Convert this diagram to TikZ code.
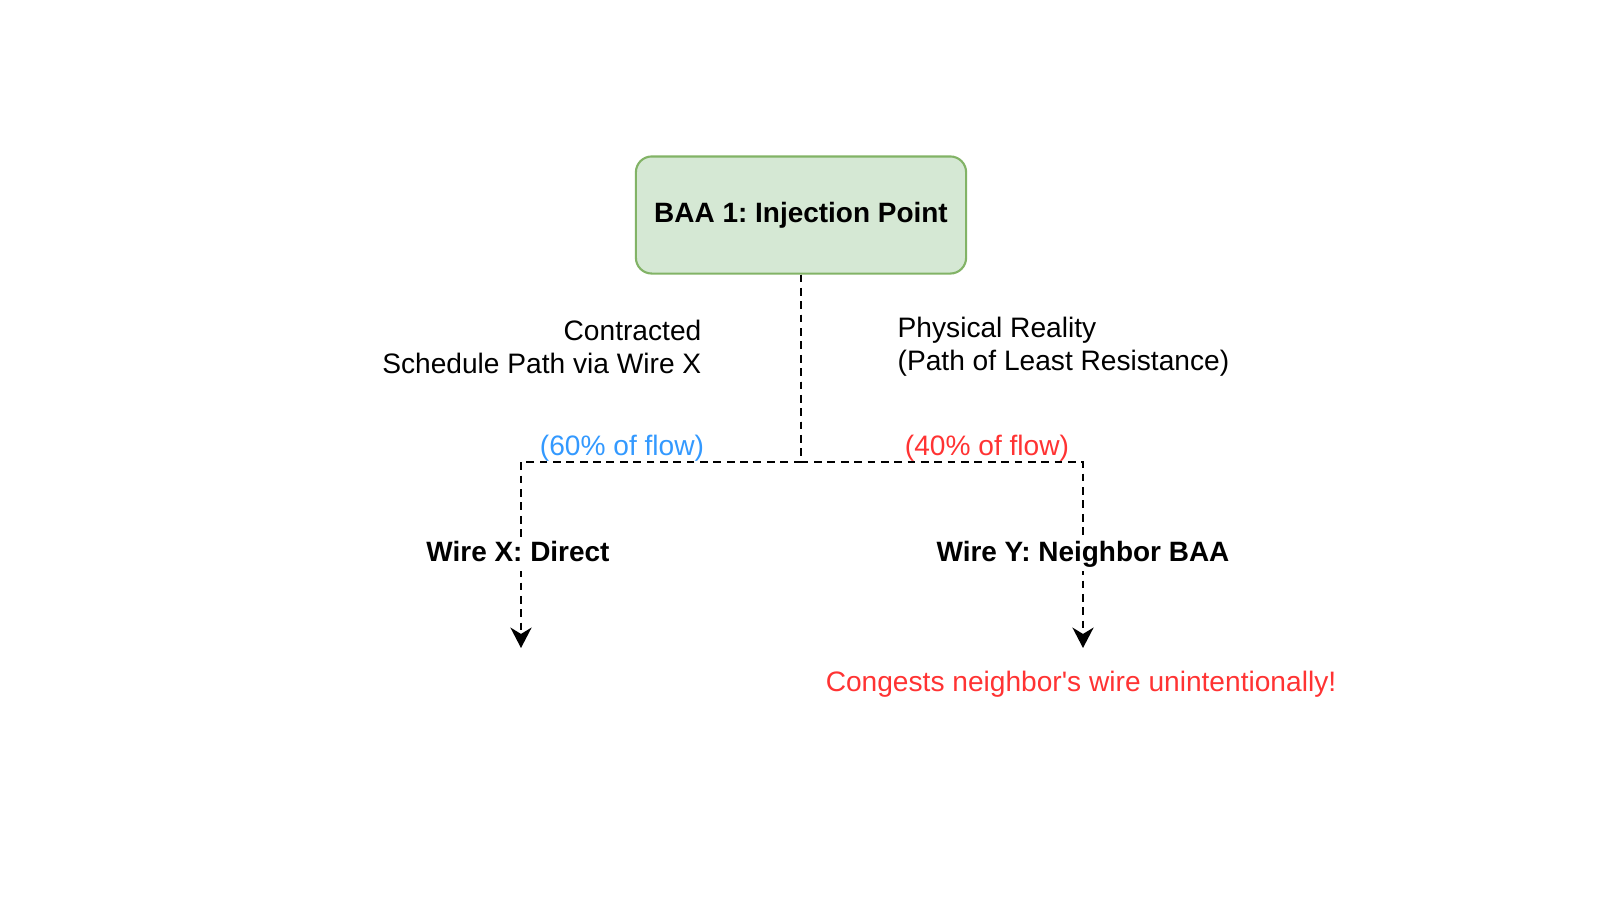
\documentclass[tikz,border=0pt]{standalone}
\usepackage{fontspec}
\setmainfont{Liberation Sans}
\usetikzlibrary{arrows.meta}
\definecolor{boxfill}{HTML}{D5E8D4}
\definecolor{boxline}{HTML}{82B366}
\definecolor{flowblue}{HTML}{3399FF}
\definecolor{flowred}{HTML}{FF3333}
\frenchspacing

\begin{document}
\begin{tikzpicture}[x=0.01cm,y=-0.01cm,
    txt/.style={font=\fontsize{8}{9.3}\selectfont,inner sep=0pt},
    bold/.style={font=\fontsize{7.95}{9.3}\selectfont\bfseries},
    flow/.style={line width=0.65pt,black,dash pattern=on 2.2pt off 1.6pt},
    tip/.style={-{Stealth[length=5.8pt,width=6pt,inset=1.8pt]}}]
    \useasboundingbox (0,0) rectangle (1600,900);
    % Injection point
    \node[draw=boxline,fill=boxfill,line width=0.6pt,rounded corners=4.5pt,
          minimum width=93.9pt,minimum height=33.3pt,txt,bold]
          (inj) at (801,215) {BAA 1: Injection Point};
    \coordinate (split) at (801,462);
    \coordinate (wirex) at (521,648);
    \coordinate (wirey) at (1083,648);
    % Flow lines
    \draw[flow,tip] (inj.south) -- (split) -| (wirex);
    \draw[flow,tip] (inj.south) -- (split) -| (wirey);
    % Path labels
    \node[txt,anchor=east,align=right] (sched) at (702,347) {Contracted\\Schedule Path via Wire X};
    \node[txt,anchor=west,align=left] (phys) at (897,347) {Physical Reality\\(Path of Least Resistance)};
    \node[txt,text=flowblue] (share60) at (622,448) {(60\% of flow)};
    \node[txt,text=flowred] (share40) at (987,448) {(40\% of flow)};
    % Wires
    \node[txt,bold,fill=white,inner sep=1pt,text height=6pt,text depth=1.7pt] (lblx) at (518,554) {Wire X: Direct};
    \node[txt,bold,fill=white,inner sep=1pt,text height=6pt,text depth=1.7pt] (lbly) at (1083,554) {Wire Y: Neighbor BAA};
    \node[txt,text=flowred] (congest) at (1081,684) {Congests neighbor\textquotesingle s wire unintentionally!};
\end{tikzpicture}
\end{document}
